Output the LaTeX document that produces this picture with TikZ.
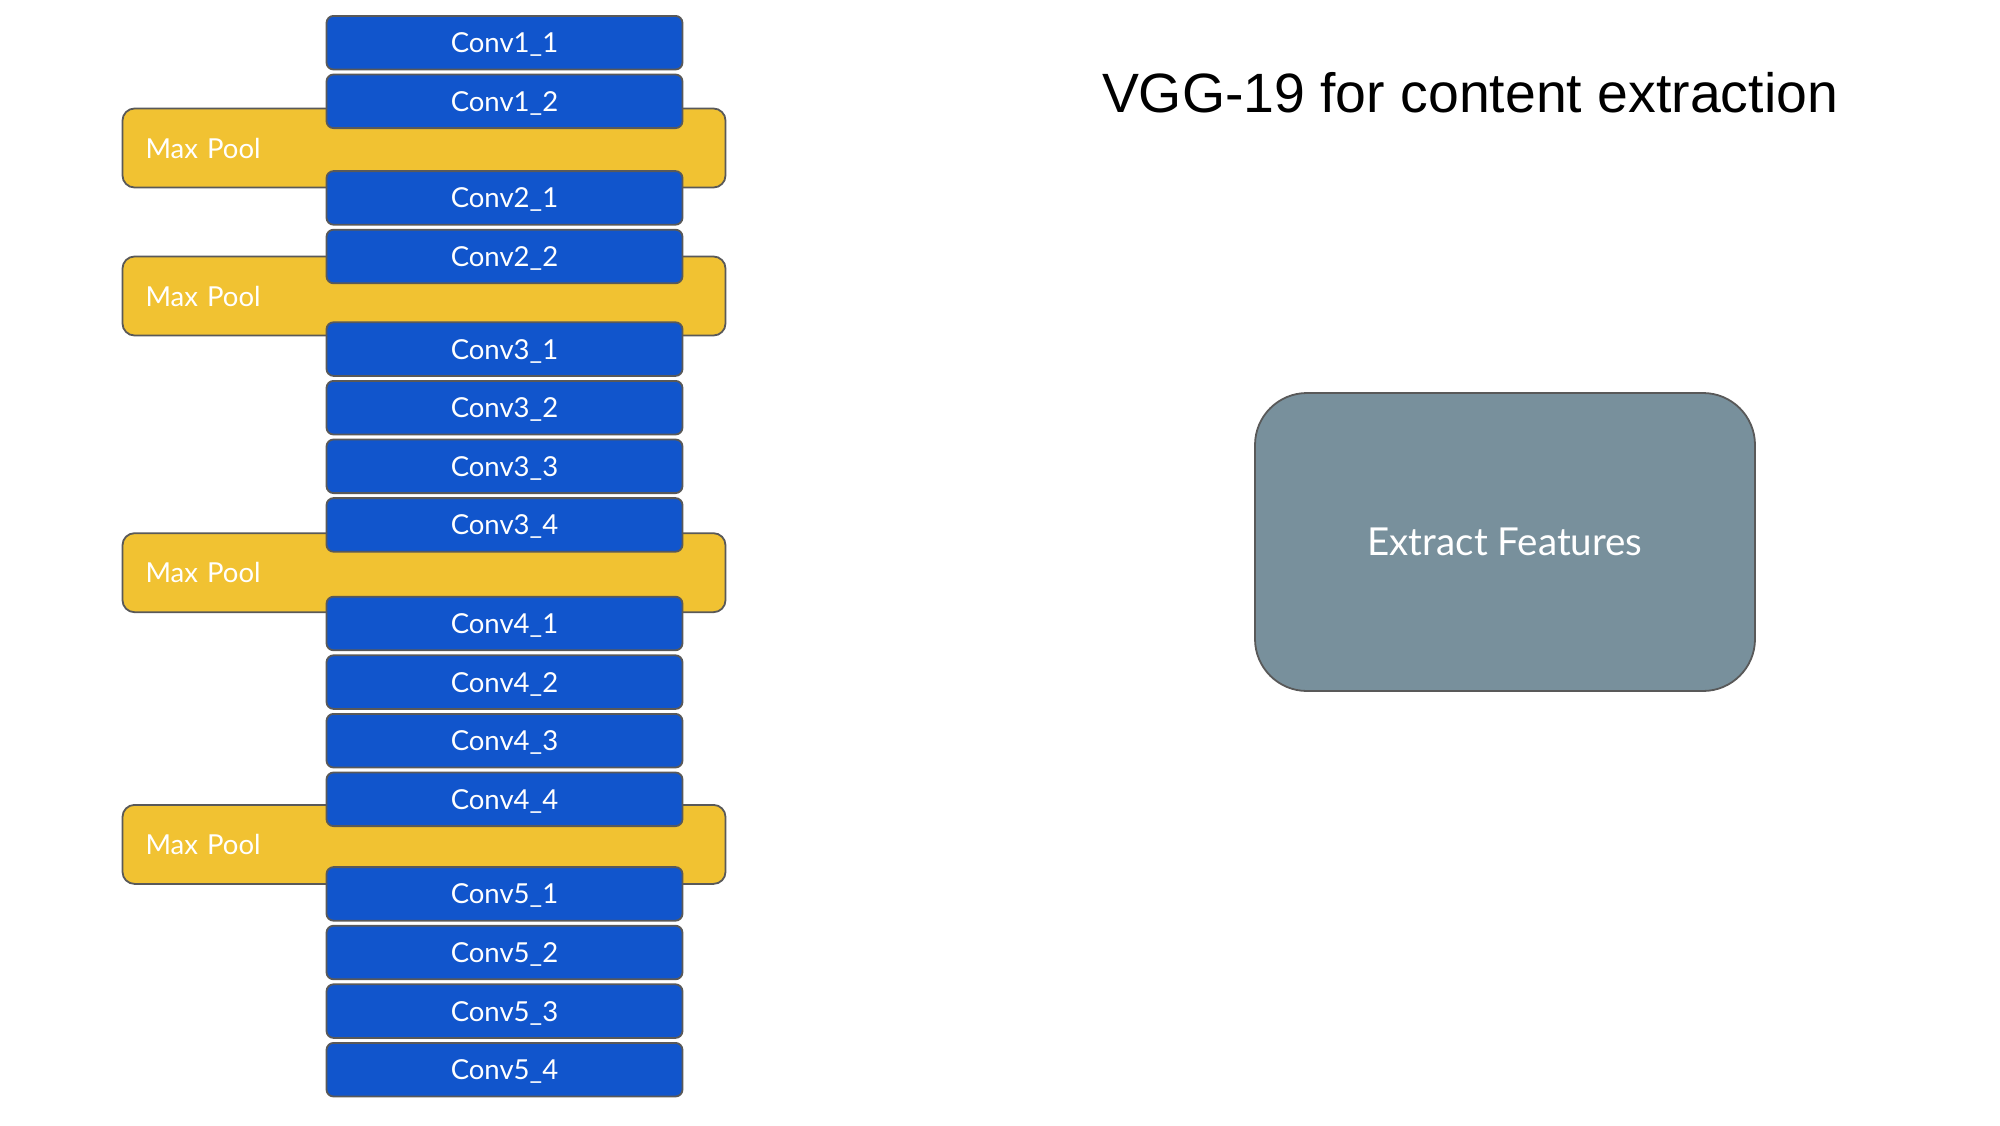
\documentclass[tikz,border=0pt]{standalone}
\usepackage{fontspec}
\setmainfont{Lato}
\newfontfamily\titlefont{Liberation Sans}
\usepackage{xcolor}
\usetikzlibrary{positioning}
\definecolor{convblue}{HTML}{1155CC}
\definecolor{poolyellow}{HTML}{F1C232}
\definecolor{featgrey}{HTML}{78909C}
\definecolor{edgegrey}{HTML}{595959}

\begin{document}
\begin{tikzpicture}[
  x=1pt,y=-1pt,
  node distance=5pt,
  conv/.style={draw=edgegrey,line width=1.8pt,fill=convblue,rounded corners=7pt,
               minimum width=356pt,minimum height=53.6pt,inner sep=0pt,outer sep=0pt,
               text height=20pt,text depth=0pt,
               text=white,font=\fontsize{27.5}{32}\selectfont},
  pool/.style={draw=edgegrey,line width=1.8pt,fill=poolyellow,rounded corners=12pt,
               text width=557pt,align=left,inner xsep=23pt,inner ysep=0pt,
               text height=20pt,text depth=0pt,
               minimum height=79pt,outer sep=0pt,
               text=white,font=\fontsize{27.5}{32}\selectfont},
  feat/.style={draw=edgegrey,line width=1.8pt,fill=featgrey,rounded corners=52pt,
               minimum width=500pt,minimum height=298pt,outer sep=0pt,
               text height=27.5pt,text depth=0pt,
               text=white,font=\fontsize{38.5}{44}\selectfont},
]
\useasboundingbox (0,0) rectangle (2000,1125);

% pooling layers sit behind the conv stack
\node[pool] (pool1) at (424,148)   {Max Pool};
\node[pool] (pool2) at (424,296)   {Max Pool};
\node[pool] (pool3) at (424,572.7) {Max Pool};
\node[pool] (pool4) at (424,844.4) {Max Pool};

\node[conv] (conv11) at (504.5,42.7) {Conv1\_1};
\node[conv,below=of conv11] (conv12) {Conv1\_2};
\node[conv,below=43pt of conv12] (conv21) {Conv2\_1};
\node[conv,below=of conv21] (conv22) {Conv2\_2};
\node[conv,below=39pt of conv22] (conv31) {Conv3\_1};
\node[conv,below=of conv31] (conv32) {Conv3\_2};
\node[conv,below=of conv32] (conv33) {Conv3\_3};
\node[conv,below=of conv33] (conv34) {Conv3\_4};
\node[conv,below=45pt of conv34] (conv41) {Conv4\_1};
\node[conv,below=of conv41] (conv42) {Conv4\_2};
\node[conv,below=of conv42] (conv43) {Conv4\_3};
\node[conv,below=of conv43] (conv44) {Conv4\_4};
\node[conv,below=41pt of conv44] (conv51) {Conv5\_1};
\node[conv,below=of conv51] (conv52) {Conv5\_2};
\node[conv,below=of conv52] (conv53) {Conv5\_3};
\node[conv,below=of conv53] (conv54) {Conv5\_4};

\node[font=\titlefont\fontsize{55.4}{66}\selectfont,anchor=base] (title) at (1470,112)
  {VGG-19 for content extraction};

\node[feat] (extract) at (1505,542) {Extract Features};
\end{tikzpicture}
\end{document}
